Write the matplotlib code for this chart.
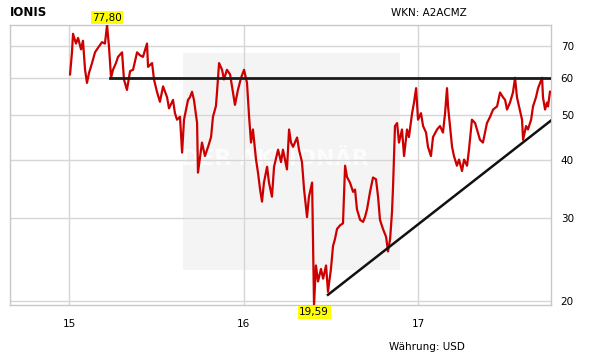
import numpy as np
import matplotlib
matplotlib.use("Agg")
import matplotlib.pyplot as plt
from matplotlib.patches import Rectangle
from matplotlib.ticker import NullLocator

# price series (decimal year, USD)
years = [2015.006, 2015.017, 2015.023, 2015.040, 2015.052, 2015.069, 2015.080, 2015.092,
         2015.103, 2015.115, 2015.132, 2015.149, 2015.166, 2015.189, 2015.206, 2015.218,
         2015.229, 2015.241, 2015.252, 2015.269, 2015.281, 2015.304, 2015.315, 2015.332,
         2015.350, 2015.367, 2015.390, 2015.407, 2015.424, 2015.447, 2015.453, 2015.476,
         2015.487, 2015.504, 2015.521, 2015.539, 2015.562, 2015.573, 2015.596, 2015.607,
         2015.619, 2015.636, 2015.648, 2015.659, 2015.682, 2015.693, 2015.705, 2015.716,
         2015.734, 2015.739, 2015.762, 2015.779, 2015.797, 2015.814, 2015.825, 2015.842,
         2015.848, 2015.860, 2015.877, 2015.888, 2015.905, 2015.923, 2015.934, 2015.951,
         2015.968, 2015.986, 2016.003, 2016.020, 2016.032, 2016.043, 2016.054, 2016.072,
         2016.083, 2016.095, 2016.106, 2016.117, 2016.135, 2016.146, 2016.163, 2016.175,
         2016.198, 2016.215, 2016.226, 2016.249, 2016.261, 2016.272, 2016.284, 2016.307,
         2016.318, 2016.335, 2016.347, 2016.364, 2016.375, 2016.393, 2016.398, 2016.404,
         2016.415, 2016.427, 2016.444, 2016.456, 2016.473, 2016.484, 2016.501, 2016.513,
         2016.524, 2016.536, 2016.553, 2016.570, 2016.582, 2016.593, 2016.610, 2016.628,
         2016.639, 2016.650, 2016.668, 2016.685, 2016.696, 2016.708, 2016.725, 2016.742,
         2016.759, 2016.771, 2016.782, 2016.799, 2016.817, 2016.828, 2016.840, 2016.851,
         2016.857, 2016.868, 2016.880, 2016.891, 2016.908, 2016.920, 2016.937, 2016.948,
         2016.966, 2016.977, 2016.989, 2017.000, 2017.017, 2017.029, 2017.046, 2017.057,
         2017.074, 2017.086, 2017.109, 2017.126, 2017.143, 2017.155, 2017.166, 2017.172,
         2017.183, 2017.195, 2017.206, 2017.223, 2017.235, 2017.252, 2017.264, 2017.281,
         2017.292, 2017.309, 2017.327, 2017.338, 2017.355, 2017.372, 2017.384, 2017.395,
         2017.413, 2017.430, 2017.453, 2017.470, 2017.487, 2017.499, 2017.510, 2017.527,
         2017.544, 2017.556, 2017.567, 2017.579, 2017.596, 2017.602, 2017.619, 2017.630,
         2017.648, 2017.659, 2017.676, 2017.688, 2017.711, 2017.716, 2017.728, 2017.739,
         2017.745, 2017.756]
prices = [61.0, 68.0, 74.5, 71.0, 73.0, 69.0, 72.0, 62.4,
          58.5, 61.5, 64.5, 68.0, 69.5, 71.5, 71.0, 77.8,
          70.0, 60.0, 62.4, 64.5, 66.5, 68.0, 59.5, 56.5,
          62.0, 62.4, 68.0, 67.0, 66.5, 71.0, 63.3, 64.5,
          59.5, 56.0, 53.3, 57.5, 54.5, 51.6, 53.8, 50.4,
          48.8, 49.5, 41.5, 48.8, 53.8, 54.5, 56.0, 53.8,
          48.0, 37.6, 43.6, 40.8, 42.7, 44.8, 49.5, 52.2,
          55.8, 64.5, 62.4, 59.5, 62.4, 61.0, 57.5, 52.5,
          56.5, 60.0, 62.4, 58.5, 49.5, 43.6, 46.5, 40.0,
          37.6, 34.6, 32.6, 35.8, 38.7, 35.8, 33.4, 38.7,
          42.1, 39.6, 42.1, 38.2, 46.5, 43.6, 42.7, 44.7,
          42.1, 39.6, 34.6, 30.2, 33.4, 35.8, 27.0, 19.59,
          23.8, 22.0, 23.4, 22.3, 23.8, 20.9, 23.4, 26.2,
          27.1, 28.5, 29.0, 29.3, 38.9, 36.8, 35.8, 34.2,
          34.6, 31.4, 29.8, 29.5, 30.2, 31.4, 34.2, 36.7,
          36.4, 33.4, 29.8, 28.5, 27.4, 25.5, 27.1, 31.0,
          35.2, 47.3, 48.0, 43.6, 46.5, 40.8, 46.5, 44.8,
          50.4, 53.1, 57.0, 48.8, 50.4, 47.3, 45.8, 42.7,
          40.8, 44.8, 46.5, 47.3, 45.8, 50.4, 57.0, 52.1,
          47.3, 42.7, 40.8, 38.9, 40.1, 37.9, 40.1, 38.9,
          42.1, 48.8, 48.0, 46.5, 44.2, 43.6, 45.8, 48.0,
          49.5, 51.3, 52.1, 55.8, 54.5, 53.8, 51.3, 53.1,
          55.8, 60.0, 54.5, 52.1, 48.8, 44.2, 47.3, 46.5,
          48.8, 52.1, 54.5, 57.0, 60.0, 54.5, 51.3, 53.1,
          52.1, 56.0]

# drawn trend lines
resist_x = [2015.235, 2017.762]
resist_y = [59.8, 59.8]
support_x = [2016.484, 2017.762]
support_y = [20.6, 48.6]

y_ticks = [20, 30, 40, 50, 60, 70]
x_ticks = [2015, 2016, 2017]
x_labels = ["15", "16", "17"]

fig = plt.figure(figsize=(6.11, 3.64), dpi=100)
ax = fig.add_axes([0.0164, 0.1621, 0.8854, 0.7692])

grid_c = "#d6d6d6"
ax.set_yscale("log")
ax.set_xlim(2014.662, 2017.762)
ax.set_ylim(19.59, 77.8)

# watermark box
ax.add_patch(Rectangle((0.320, 0.125), 0.401, 0.775, transform=ax.transAxes,
                       facecolor="#f4f4f4", edgecolor="none", zorder=0))
ax.text(0.49, 0.52, "DER AKTIONÄR", transform=ax.transAxes, ha="center", va="center",
        fontsize=16, fontweight="bold", color="#fcfcfc", zorder=0.5)

for yv in y_ticks:
    ax.axhline(yv, color=grid_c, lw=1, zorder=1)
for xv in x_ticks:
    ax.axvline(xv, color=grid_c, lw=1, zorder=1)

ax.plot(years, prices, color="#cc0000", lw=1.6, zorder=3)
ax.plot(resist_x, resist_y, color="#1a1a1a", lw=2, zorder=4)
ax.plot(support_x, support_y, color="#111111", lw=1.8, zorder=4)

# high / low labels
i_max = int(np.argmax(prices))
i_min = int(np.argmin(prices))
box = dict(boxstyle="square,pad=0.15", facecolor="#ffff00", edgecolor="none")
ax.annotate(f"{prices[i_max]:.2f}".replace(".", ","), (years[i_max], prices[i_max]),
            xytext=(0, 1.5), textcoords="offset points", ha="center", va="bottom",
            fontsize=7.5, bbox=box, annotation_clip=False, zorder=5)
ax.annotate(f"{prices[i_min]:.2f}".replace(".", ","), (years[i_min], prices[i_min]),
            xytext=(0, -1.5), textcoords="offset points", ha="center", va="top",
            fontsize=7.5, bbox=box, annotation_clip=False, zorder=5)

ax.yaxis.set_minor_locator(NullLocator())
ax.set_yticks(y_ticks)
ax.set_yticklabels([str(v) for v in y_ticks])
ax.yaxis.tick_right()
ax.set_xticks(x_ticks)
ax.set_xticklabels(x_labels)
ax.tick_params(axis="both", length=0, labelsize=7.5, colors="black")
ax.tick_params(axis="y", pad=7)
ax.tick_params(axis="x", pad=10)
for s in ax.spines.values():
    s.set_color("#c8c8c8")
    s.set_linewidth(1)

fig.text(10 / 611, 1 - 13 / 364, "IONIS", fontsize=8.5, fontweight="bold", va="center", ha="left")
fig.text(429 / 611, 1 - 13 / 364, "WKN: A2ACMZ", fontsize=7.5, va="center", ha="center")
fig.text(427 / 611, 1 - 347 / 364, "Währung: USD", fontsize=7.5, va="center", ha="center")

fig.savefig("out.png", dpi=100, facecolor="white")
